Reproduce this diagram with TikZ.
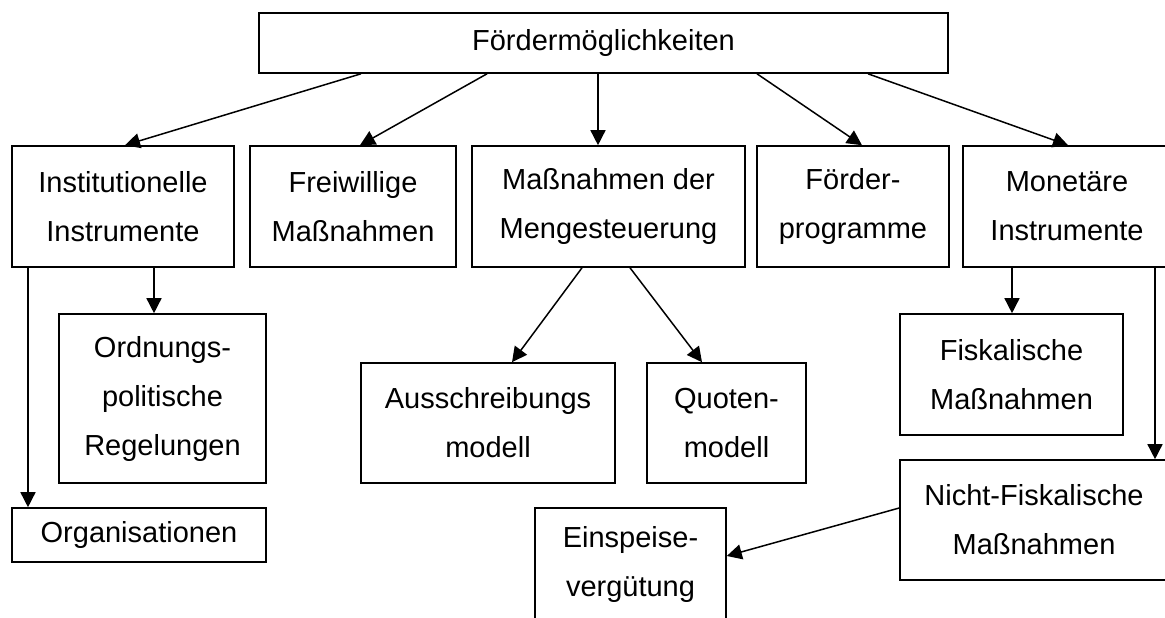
\documentclass[tikz,border=0pt]{standalone}
\usepackage{fontspec}
\setmainfont{Liberation Sans}
\usetikzlibrary{arrows.meta}
\begin{document}
\begin{tikzpicture}[x=1pt,y=-1pt,
  box/.style={draw,line width=1.6pt,rectangle,inner sep=0pt,align=center,
    font=\fontsize{29}{49}\selectfont},
  arr/.style={line width=1.5pt,-{Triangle[length=15pt,width=15pt]}}]
\useasboundingbox (0,0) rectangle (1165,618);
\clip (0,0) rectangle (1165,618);
\node[box,minimum width=689pt,minimum height=60pt] (top) at (603.5,43) {Fördermöglichkeiten};
\node[box,minimum width=222pt,minimum height=121pt] (inst) at (123,206.5) {Institutionelle\\Instrumente};
\node[box,minimum width=206pt,minimum height=121pt] (frei) at (353,206.5) {Freiwillige\\Maßnahmen};
\node[box,minimum width=273pt,minimum height=121pt] (meng) at (608.5,206.5) {Maßnahmen der\\Mengesteuerung};
\node[box,minimum width=192pt,minimum height=121pt] (foerd) at (853,206.5) {Förder-\\programme};
\node[box,minimum width=208pt,minimum height=121pt] (mon) at (1067,206.5) {Monetäre\\Instrumente};
\node[box,minimum width=207pt,minimum height=169pt] (ordn) at (162.5,398.5) {Ordnungs-\\politische\\Regelungen};
\node[box,minimum width=254pt,minimum height=54pt] (org) at (139,535) {Organisationen};
\node[box,minimum width=254pt,minimum height=120pt] (aus) at (488,423) {Ausschreibungs\\modell};
\node[box,minimum width=159pt,minimum height=120pt] (quo) at (726.5,423) {Quoten-\\modell};
\node[box,minimum width=223pt,minimum height=121pt] (fisk) at (1011.5,374.5) {Fiskalische\\Maßnahmen};
\node[box,minimum width=268pt,minimum height=120pt] (nicht) at (1034,520) {Nicht-Fiskalische\\Maßnahmen};
\node[box,minimum width=191pt,minimum height=112pt] (ein) at (630.5,564) {Einspeise-\\vergütung};
\draw[arr] (top.south -| 361,0) -- (inst.north -| 125,0);
\draw[arr] (top.south -| 487,0) -- (frei.north -| 360,0);
\draw[arr] (top.south -| 598,0) -- (meng.north -| 598,0);
\draw[arr] (top.south -| 757,0) -- (foerd.north -| 862,0);
\draw[arr] (top.south -| 868,0) -- (mon.north -| 1068,0);
\draw[arr] (inst.south -| 28,0) -- (org.north -| 28,0);
\draw[arr] (inst.south -| 154,0) -- (ordn.north -| 154,0);
\draw[arr] (meng.south -| 582,0) -- (aus.north -| 512,0);
\draw[arr] (meng.south -| 630,0) -- (quo.north -| 702,0);
\draw[arr] (mon.south -| 1012,0) -- (fisk.north -| 1012,0);
\draw[arr] (mon.south -| 1155,0) -- (nicht.north -| 1155,0);
\draw[arr] (nicht.west |- 0,508) -- (ein.east |- 0,556);
\end{tikzpicture}
\end{document}
